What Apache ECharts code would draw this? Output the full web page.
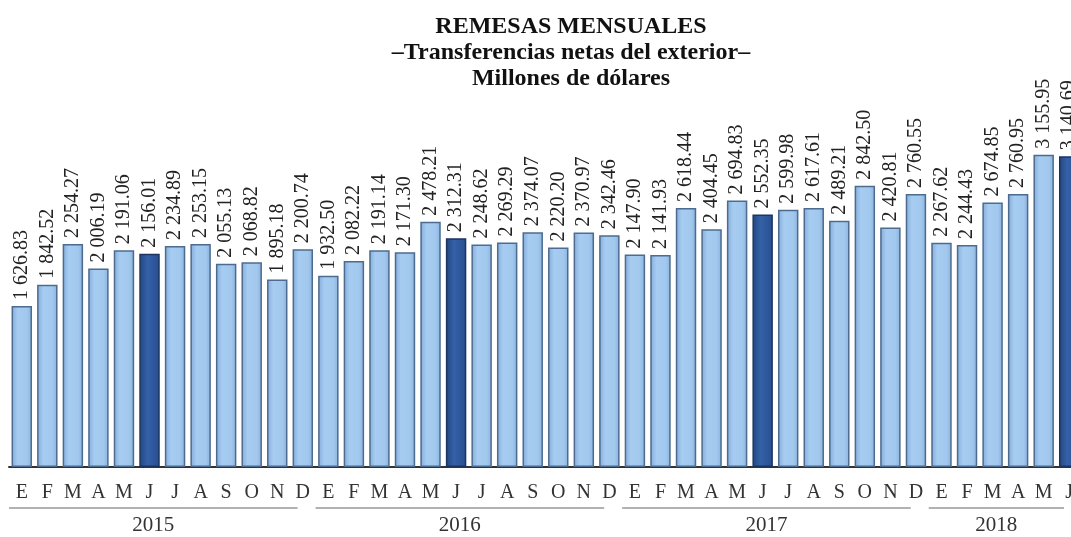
<!DOCTYPE html>
<html>
<head>
<meta charset="utf-8">
<script src="https://cdn.jsdelivr.net/npm/echarts@6/dist/echarts.min.js"></script>
<style>
  html, body { margin: 0; padding: 0; background: #fff; }
  #chart { width: 1071px; height: 537px; }
</style>
</head>
<body>
<div id="chart"></div>
<script>
const months = ["E", "F", "M", "A", "M", "J", "J", "A", "S", "O", "N", "D"];
const years = ["2015", "2016", "2017", "2018"];
const monthsPerYear = [12, 12, 12, 6];

const values2015 = [1626.83, 1842.52, 2254.27, 2006.19, 2191.06, 2156.01, 2234.89, 2253.15, 2055.13, 2068.82, 1895.18, 2200.74];
const values2016 = [1932.50, 2082.22, 2191.14, 2171.30, 2478.21, 2312.31, 2248.62, 2269.29, 2374.07, 2220.20, 2370.97, 2342.46];
const values2017 = [2147.90, 2141.93, 2618.44, 2404.45, 2694.83, 2552.35, 2599.98, 2617.61, 2489.21, 2842.50, 2420.81, 2760.55];
const values2018 = [2267.62, 2244.43, 2674.85, 2760.95, 3155.95, 3140.69];

// June bars are drawn dark
const highlightIndex = 5;

const serif = "'Liberation Serif', 'DejaVu Serif', serif";

// build categories and bar data
const allValues = [values2015, values2016, values2017, values2018];
const categories = [];
const barData = [];
const yearSpans = [];
let idx = 0;
years.forEach((y, yi) => {
  const start = idx;
  for (let m = 0; m < monthsPerYear[yi]; m++) {
    categories.push(months[m]);
    barData.push({ value: allValues[yi][m], dark: m === highlightIndex });
    idx++;
  }
  yearSpans.push([start, idx - 1, y]);
});

const lightFill = new echarts.graphic.LinearGradient(0, 0, 1, 0, [
  { offset: 0, color: "#84ACD9" },
  { offset: 0.3, color: "#A6CCF2" },
  { offset: 0.75, color: "#A2C8EE" },
  { offset: 1, color: "#8AB2DD" }
]);
const darkFill = new echarts.graphic.LinearGradient(0, 0, 1, 0, [
  { offset: 0, color: "#22467F" },
  { offset: 0.4, color: "#3561A8" },
  { offset: 1, color: "#284E90" }
]);

const fmt = (v) => {
  const [i, d] = v.toFixed(2).split(".");
  return i.replace(/\B(?=(\d{3})+(?!\d))/g, " ") + "." + d;
};

const chart = echarts.init(document.getElementById("chart"));

chart.setOption({
  backgroundColor: "#ffffff",
  animation: false,
  title: {
    text: "REMESAS MENSUALES\n–Transferencias netas del exterior–\nMillones de dólares",
    left: 566,
    top: 9,
    textAlign: "center",
    textStyle: {
      fontFamily: serif,
      fontWeight: "bold",
      fontSize: 24,
      lineHeight: 26,
      color: "#111"
    }
  },
  grid: { left: 9, right: -11, top: 101, height: 366, outerBoundsMode: "none", containLabel: false },
  xAxis: {
    type: "category",
    data: categories,
    axisLine: { show: true, lineStyle: { color: "#333", width: 2 } },
    axisTick: { show: false },
    axisLabel: {
      interval: 0,
      margin: 16,
      fontFamily: serif,
      fontSize: 20,
      color: "#333"
    }
  },
  yAxis: {
    type: "value",
    min: 0,
    max: 3700,
    show: false,
    splitLine: { show: false }
  },
  series: [
    {
      type: "bar",
      barWidth: "80%",
      data: barData.map((d) => ({
        value: d.value,
        itemStyle: {
          color: d.dark ? darkFill : lightFill,
          borderColor: d.dark ? "#1C3560" : "#4D6B8E",
          borderWidth: 1.5
        }
      })),
      label: {
        show: true,
        position: "top",
        rotate: 90,
        align: "left",
        verticalAlign: "middle",
        distance: 6,
        fontFamily: serif,
        fontSize: 20,
        color: "#222",
        formatter: (p) => fmt(p.value)
      }
    },
    {
      type: "custom",
      clip: false,
      silent: true,
      data: yearSpans,
      renderItem: (params, api) => {
        const start = api.value(0);
        const end = api.value(1);
        const half = api.size([1, 0])[0] / 2;
        const p0 = api.coord([start, 0]);
        const p1 = api.coord([end, 0]);
        const x0 = p0[0] - half;
        const x1 = p1[0] + half - 18;
        const y = p0[1];
        return {
          type: "group",
          children: [
            {
              type: "line",
              shape: { x1: x0, y1: y + 41, x2: x1, y2: y + 41 },
              style: { stroke: "#666", lineWidth: 1.2 }
            },
            {
              type: "text",
              style: {
                text: yearSpans[params.dataIndex][2],
                x: (x0 + x1) / 2,
                y: y + 58,
                align: "center",
                verticalAlign: "middle",
                font: "21px " + serif,
                fill: "#333"
              }
            }
          ]
        };
      }
    }
  ]
});
</script>
</body>
</html>
